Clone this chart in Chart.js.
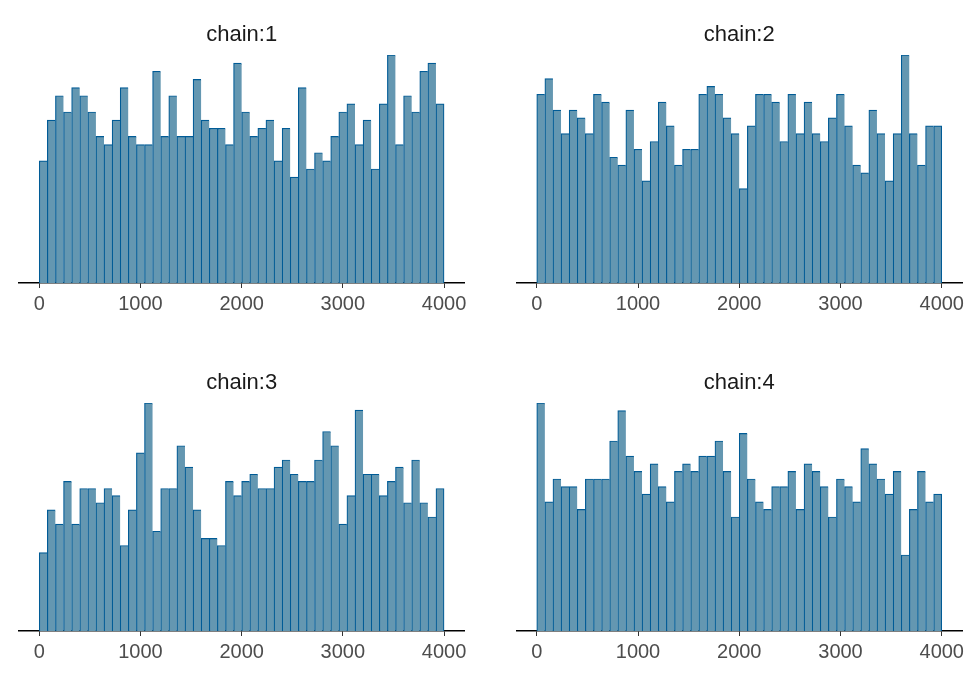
<!DOCTYPE html>
<html><head><meta charset="utf-8">
<script src="https://cdn.jsdelivr.net/npm/chart.js@4.4.1/dist/chart.umd.min.js"></script>
<style>
html,body{margin:0;padding:0;background:#fff;width:975px;height:675px;overflow:hidden}
canvas{position:absolute;display:block}
</style></head><body>
<canvas id="c1" width="487" height="327" style="left:0;top:0"></canvas>
<canvas id="c2" width="488" height="327" style="left:487px;top:0"></canvas>
<canvas id="c3" width="487" height="327" style="left:0;top:348px"></canvas>
<canvas id="c4" width="488" height="327" style="left:487px;top:348px"></canvas>
<script>
const FONT = "'Liberation Sans', Arial, Helvetica, sans-serif";
const BIN_START = 0;
const BIN_WIDTH = 80;
const AXIS_MIN = -200, AXIS_MAX = 4200;
const TICKS = [0, 1000, 2000, 3000, 4000];
const TITLES = ['chain:1', 'chain:2', 'chain:3', 'chain:4'];

const chain1 = [15,20,23,21,24,23,21,18,17,20,24,18,17,17,26,18,23,18,18,25,20,19,19,17,27,21,18,19,20,15,19,13,24,14,16,15,18,21,22,17,20,14,22,28,17,23,21,26,27,22];
const chain2 = [24,26,22,19,22,21,19,24,23,16,15,22,17,13,18,23,20,15,17,17,24,25,24,21,19,12,20,24,24,23,18,24,19,23,19,18,21,24,20,15,14,22,19,13,19,29,19,15,20,20];
const chain3 = [11,17,15,21,15,20,20,18,20,19,12,17,25,32,14,20,20,26,23,17,13,13,12,21,19,21,22,20,20,23,24,22,21,21,24,28,26,15,19,31,22,22,19,21,23,18,24,18,16,20];
const chain4 = [30,17,20,19,19,16,20,20,20,25,29,23,21,18,22,19,17,21,22,21,23,23,25,21,15,26,20,17,16,19,19,21,16,22,21,19,15,20,19,17,24,22,20,18,21,10,16,21,17,18];

function makeChart(id, title, counts, padLeft, padRight) {
  const last = counts.length - 1;
  return new Chart(document.getElementById(id), {
    type: 'bar',
    data: {
      datasets: [{
        data: counts.map((c, i) => ({ x: BIN_START + BIN_WIDTH * (i + 0.5), y: c })),
        backgroundColor: '#6497b1',
        borderColor: '#005b96',
        borderWidth: ctx => ({ top: 1.2, left: 1.2, right: ctx.dataIndex === last ? 1.2 : 0, bottom: 0 }),
        borderSkipped: 'bottom',
        barPercentage: 1,
        categoryPercentage: 1
      }]
    },
    options: {
      responsive: false,
      animation: false,
      layout: { padding: { left: padLeft, right: padRight, top: 0, bottom: 0 } },
      plugins: {
        legend: { display: false },
        tooltip: { enabled: false },
        title: {
          display: true, text: title, color: '#1a1a1a', fullSize: false,
          font: { family: FONT, size: 22, weight: 'normal', lineHeight: 1.2 },
          padding: { top: 21.5, bottom: 7.1 }
        }
      },
      scales: {
        x: {
          type: 'linear', min: AXIS_MIN, max: AXIS_MAX, offset: false,
          afterBuildTicks: s => { s.ticks = TICKS.map(v => ({ value: v })); },
          afterFit: s => { s.height = 44; },
          grid: { display: true, drawOnChartArea: false, drawTicks: true, tickLength: 5, tickWidth: 1, color: '#333333', offset: false },
          border: { display: true, color: '#000000', width: 1.5 },
          ticks: { color: '#4d4d4d', font: { family: FONT, size: 20 }, padding: 4.5, maxRotation: 0, autoSkip: false,
                   callback: v => String(v) }
        },
        y: { display: false, min: 0, max: Math.max(...counts) }
      }
    }
  });
}

makeChart('c1', TITLES[0], chain1, 19, 22.7);
makeChart('c2', TITLES[1], chain2, 29.5, 13);
makeChart('c3', TITLES[2], chain3, 19, 22.7);
makeChart('c4', TITLES[3], chain4, 29.5, 13);
</script>
</body></html>
